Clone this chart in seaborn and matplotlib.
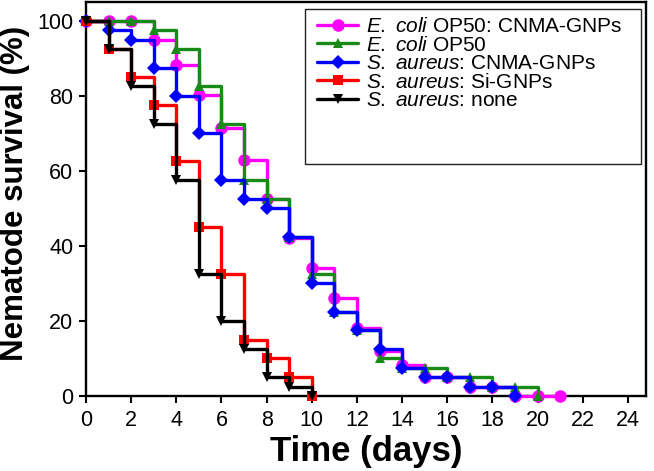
import matplotlib
matplotlib.use("Agg")
import matplotlib.pyplot as plt
from matplotlib.patches import Rectangle
import seaborn as sns
import pandas as pd

# ---- data ----
ecoli_cnma_days = list(range(0, 22))
ecoli_cnma = [100, 100, 100, 95, 88.3, 80.3, 71.4, 63, 52.4, 42, 34, 26, 18.2, 12,
              8.2, 5, 5, 2.5, 2.5, 0, 0, 0]
ecoli_days = list(range(0, 21))
ecoli = [100, 100, 100, 97.5, 92.5, 82.5, 72.5, 57.5, 52.5, 42.5, 32.5, 22.5, 17.5,
         10, 7.5, 7.5, 5, 5, 2.5, 2.5, 0]
sa_cnma_days = list(range(0, 20))
sa_cnma = [100, 97.5, 95, 87.5, 80, 70, 57.5, 52.5, 50, 42.5, 30, 22.5, 17.5, 12.5,
           7.5, 5, 5, 2.5, 2.5, 0]
sa_si_days = list(range(0, 11))
sa_si = [100, 92.5, 85, 77.5, 62.5, 45, 32.5, 15, 10, 5, 0]
sa_none_days = list(range(0, 11))
sa_none = [100, 92.5, 82.5, 72.5, 57.5, 32.5, 20, 12.5, 5, 2.5, 0]

labels = [r"$\it{E.}$ $\it{coli}$ OP50: CNMA-GNPs",
          r"$\it{E.}$ $\it{coli}$ OP50",
          r"$\it{S.}$ $\it{aureus}$: CNMA-GNPs",
          r"$\it{S.}$ $\it{aureus}$: Si-GNPs",
          r"$\it{S.}$ $\it{aureus}$: none"]
x_ticks = list(range(0, 25, 2))
y_ticks = [0, 20, 40, 60, 80, 100]

series = [
    (ecoli_cnma_days, ecoli_cnma, "#FF00FF", "o", 9.0),
    (ecoli_days, ecoli, "#178A17", "^", 7.5),
    (sa_cnma_days, sa_cnma, "#0000FF", "D", 6.8),
    (sa_si_days, sa_si, "#FF0000", "s", 7.0),
    (sa_none_days, sa_none, "#000000", "v", 7.5),
]

sns.set_style("ticks")
plt.rcParams["font.family"] = ["Liberation Sans", "DejaVu Sans"]
plt.rcParams["mathtext.fontset"] = "custom"
plt.rcParams["mathtext.it"] = "Liberation Sans:italic"
plt.rcParams["mathtext.rm"] = "Liberation Sans"
plt.rcParams["text.color"] = "black"
plt.rcParams["axes.labelcolor"] = "black"

fig = plt.figure(figsize=(6.54, 4.71), dpi=100)
ax = fig.add_axes([86 / 654, 75 / 471, 560 / 654, 394 / 471])

for i, ((d, v, c, m, ms), lab) in enumerate(zip(series, labels)):
    df = pd.DataFrame({"day": d, "surv": v})
    sns.lineplot(data=df, x="day", y="surv", ax=ax, color=c, marker=m,
                 markersize=ms, markeredgewidth=0, linewidth=2.4,
                 drawstyle="steps-post", errorbar=None, label=lab,
                 clip_on=False, zorder=3 + i, legend=False)

ax.set_xlim(0, 24.8)
ax.set_ylim(0, 105)
ax.set_xticks(x_ticks)
ax.set_yticks(y_ticks)
ax.tick_params(axis="both", direction="out", length=5, width=1.5,
               labelsize=15.5, color="black", labelcolor="black")
ax.tick_params(axis="x", pad=5)
ax.tick_params(axis="y", pad=4)
for s in ax.spines.values():
    s.set_linewidth(1.7)
    s.set_color("black")

ax.set_xlabel("Time (days)", fontsize=25, fontweight="bold")
ax.set_ylabel("Nematode survival (%)", fontsize=22.5, fontweight="bold")
ax.xaxis.set_label_coords(0.5, -0.1)
ax.yaxis.set_label_coords(-0.1, 0.515)

handles = ax.get_lines()[:5]
leg = ax.legend(handles, labels, loc="upper left", bbox_to_anchor=(0.412, 0.962),
                frameon=False, fontsize=15, labelspacing=-0.02, borderpad=0,
                borderaxespad=0, handlelength=2.0, handletextpad=0.35)
ax.add_patch(Rectangle((0.391, 0.589), 0.600, 0.393, transform=ax.transAxes,
                       fill=False, edgecolor="#222222", linewidth=1.0, zorder=10))

fig.savefig("out.png", dpi=100)
